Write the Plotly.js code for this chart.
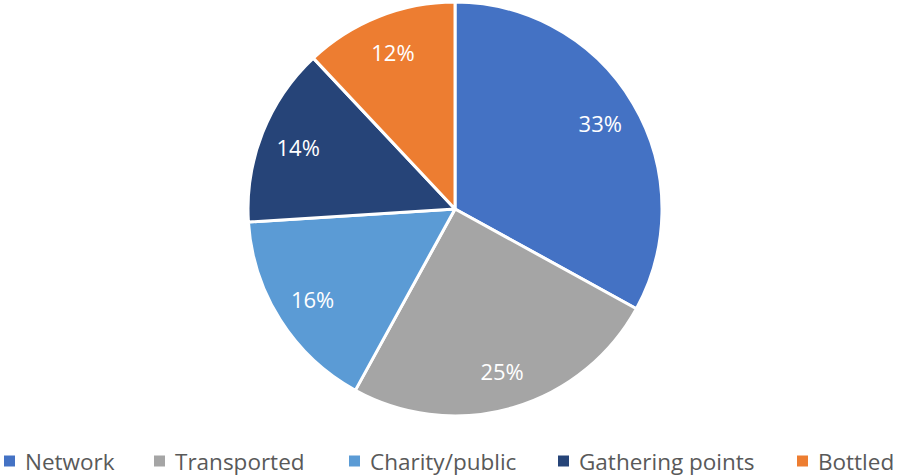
<!DOCTYPE html>
<html>
<head>
<meta charset="utf-8">
<script src="https://cdn.plot.ly/plotly-3.0.1.min.js"></script>
<style>html,body{margin:0;padding:0;background:#fff}#chart{width:898px;height:476px}</style>
</head>
<body>
<div id="chart"></div>
<script>
var categories = ["Network", "Transported", "Charity/public", "Gathering points", "Bottled"];
var shares = [33, 25, 16, 14, 12];
var colors = ["#4472C4", "#A5A5A5", "#5B9BD5", "#264478", "#ED7D31"];

var W = 898, H = 476;
var pieDomain = {x: [0.2762, 0.7372], y: [0.1261, 0.9958]};

// full pie with white separators
var pieTrace = {
  type: "pie",
  labels: categories,
  values: shares,
  sort: false,
  direction: "clockwise",
  rotation: 0,
  marker: {colors: colors, line: {color: "#ffffff", width: 3}},
  textinfo: "none",
  hoverinfo: "label+percent",
  showlegend: false,
  domain: pieDomain
};

// transparent ring used only to place the percentage labels further out
var labelTrace = {
  type: "pie",
  labels: categories,
  values: shares,
  sort: false,
  direction: "clockwise",
  rotation: 0,
  hole: 0.63,
  marker: {colors: categories.map(function(){return "rgba(0,0,0,0)";}), line: {width: 0}},
  texttemplate: "%{percent:.0%}",
  textposition: "inside",
  insidetextorientation: "horizontal",
  textfont: {family: "Open Sans, sans-serif", size: 22, color: "#ffffff"},
  hoverinfo: "skip",
  showlegend: false,
  domain: pieDomain
};

// custom legend (square marker + label), laid out like the reference
var legendTextX = [24, 174, 369, 578, 817];
var legendY = 461;
var shapes = [], annotations = [];
categories.forEach(function(name, i){
  var tx = legendTextX[i];
  shapes.push({
    type: "rect", xref: "paper", yref: "paper",
    x0: (tx - 20) / W, x1: (tx - 9) / W,
    y0: (H - legendY - 5.5) / H, y1: (H - legendY + 5.5) / H,
    fillcolor: colors[i], line: {width: 0}
  });
  annotations.push({
    xref: "paper", yref: "paper", x: tx / W, y: (H - legendY) / H,
    xanchor: "left", yanchor: "middle", showarrow: false, borderpad: 0,
    text: name,
    font: {family: "Open Sans, sans-serif", size: 22.5, color: "#595959"}
  });
});

var layout = {
  width: W, height: H,
  margin: {l: 0, r: 0, t: 0, b: 0},
  paper_bgcolor: "#ffffff",
  showlegend: false,
  shapes: shapes,
  annotations: annotations
};

Plotly.newPlot("chart", [pieTrace, labelTrace], layout, {displayModeBar: false, staticPlot: true});
</script>
</body>
</html>
